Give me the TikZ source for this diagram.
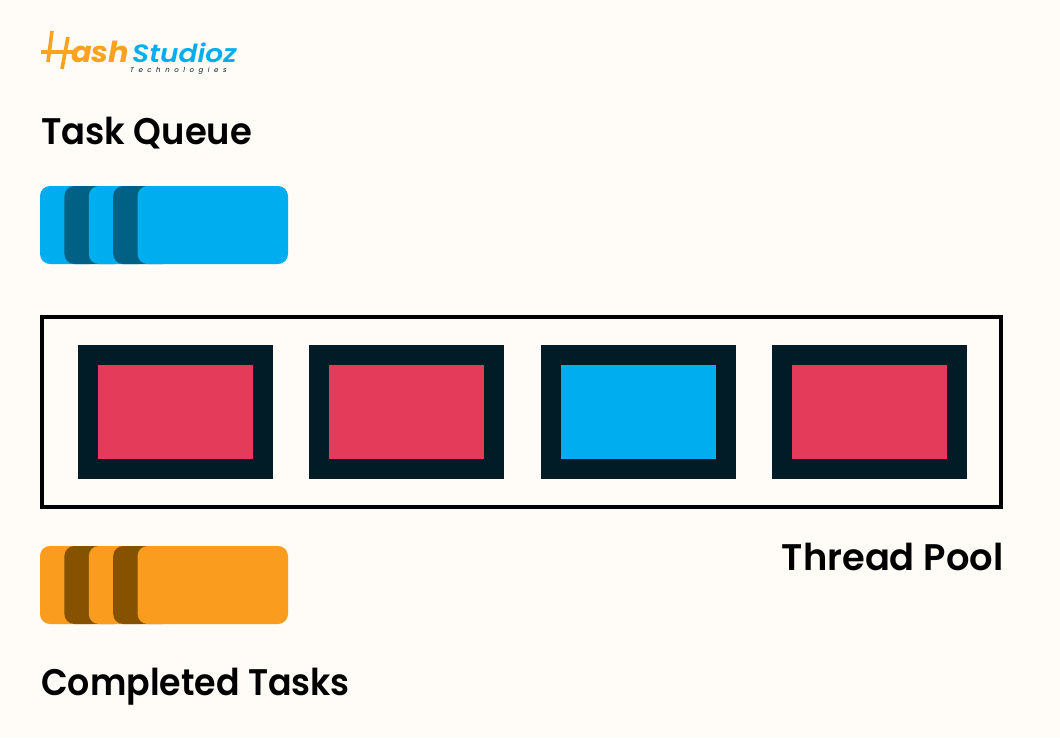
\documentclass[tikz,border=0pt]{standalone}
\usepackage{fontspec}
\setmainfont{Poppins}
\newfontfamily\logofont[LetterSpace=65]{Poppins}
\newfontfamily\titlefont{Poppins SemiBold}
\usetikzlibrary{positioning}
\definecolor{PAPER}{HTML}{FFFCF7}
\definecolor{BLUE}{HTML}{00AEEF}
\definecolor{BLUEDK}{HTML}{006184}
\definecolor{ORNG}{HTML}{FA9C1E}
\definecolor{ORNGDK}{HTML}{875200}
\definecolor{NAVY}{HTML}{011C27}
\definecolor{RED}{HTML}{E43B5A}
\definecolor{LOGOK}{HTML}{FBA31F}
\tikzset{
  heading/.style={inner sep=0pt,anchor=base west,text=black,font=\fontsize{37}{40}\titlefont},
  logoword/.style={inner sep=0pt,anchor=base west}
}
\begin{document}
\begin{tikzpicture}[x=1pt,y=-1pt]
  \fill[PAPER] (0,0) rectangle (1060,737);
  % logo
  \draw[LOGOK,line width=3.6pt] (52,31) -- (48,62);
  \draw[LOGOK,line width=3.6pt] (68,37) -- (62,69);
  \draw[LOGOK,line width=3.6pt] (41,52) -- (74,52);
  \node[logoword,text=LOGOK,xscale=1.05,font=\fontsize{29}{30}\selectfont\itshape\bfseries] (hash) at (71,62) {ash};
  \node[logoword,text=BLUE,xscale=1.12,font=\fontsize{25}{30}\titlefont\itshape] (studioz) at (132,62) {Studioz};
  \node[logoword,text=NAVY,font=\fontsize{7}{8}\logofont\itshape] (tech) at (130,72) {Technologies};
  % titles
  \node[heading,xscale=0.955] (queue) at (41,144) {Task Queue};
  \node[heading,anchor=base east,xscale=0.995] (pool) at (1003.5,570) {Thread Pool};
  \node[heading,xscale=0.94] (done) at (41,695) {Completed Tasks};
  % task cards
  \foreach \c/\k in {0/BLUE,1/BLUEDK,2/BLUE,3/BLUEDK}{
    \fill[\k,rounded corners=10pt] (40+\c*24.4,186) rectangle ++(60,78);
  }
  \fill[BLUE,rounded corners=10pt] (137.6,186) rectangle (288,264);
  \foreach \c/\k in {0/ORNG,1/ORNGDK,2/ORNG,3/ORNGDK}{
    \fill[\k,rounded corners=10pt] (40+\c*24.4,546) rectangle ++(60,78);
  }
  \fill[ORNG,rounded corners=10pt] (137.6,546) rectangle (288,624);
  % pool
  \draw[black,line width=4pt] (42,317) rectangle (1001,507);
  \foreach \c/\k in {0/RED,1/RED,2/BLUE,3/RED}{
    \fill[NAVY] (78+\c*231.3,345) rectangle ++(195,134);
    \fill[\k] (98+\c*231.3,365) rectangle ++(155,94);
  }
\end{tikzpicture}
\end{document}
